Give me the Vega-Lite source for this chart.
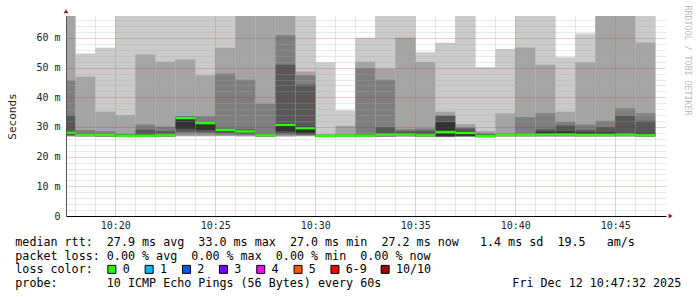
{
"$schema": "https://vega.github.io/schema/vega-lite/v6.json",
"background": "#ffffff",
"padding": {"left": 6, "top": 5, "right": 0, "bottom": 0},
"spacing": 23,
"bounds": "flush",
"config": {"view": {"stroke": null}},
"datasets": {
"pings": [
{"t":"2025-12-12T10:17:00Z","t2":"2025-12-12T10:18:00Z","p1":26.7,"p2":26.9,"p3":27.0,"p4":27.3,"p5":27.6,"p6":28.6,"p7":33.9,"p8":45.7,"p9":72,"p10":75,"med":28.1},
{"t":"2025-12-12T10:18:00Z","t2":"2025-12-12T10:19:00Z","p1":26.7,"p2":26.8,"p3":26.9,"p4":27.0,"p5":27.2,"p6":27.6,"p7":27.9,"p8":29.0,"p9":46.9,"p10":54.8,"med":27.3},
{"t":"2025-12-12T10:19:00Z","t2":"2025-12-12T10:20:00Z","p1":26.6,"p2":26.7,"p3":26.8,"p4":26.9,"p5":27.1,"p6":27.5,"p7":27.8,"p8":28.6,"p9":35.2,"p10":56.7,"med":27.3},
{"t":"2025-12-12T10:20:00Z","t2":"2025-12-12T10:21:00Z","p1":26.5,"p2":26.6,"p3":26.7,"p4":26.8,"p5":26.9,"p6":27.2,"p7":27.4,"p8":27.8,"p9":34.0,"p10":75,"med":27.0},
{"t":"2025-12-12T10:21:00Z","t2":"2025-12-12T10:22:00Z","p1":26.5,"p2":26.6,"p3":26.8,"p4":26.9,"p5":27.0,"p6":27.8,"p7":29.1,"p8":30.8,"p9":54.4,"p10":75,"med":27.1},
{"t":"2025-12-12T10:22:00Z","t2":"2025-12-12T10:23:00Z","p1":26.6,"p2":26.7,"p3":26.8,"p4":26.9,"p5":27.0,"p6":27.6,"p7":28.6,"p8":30.1,"p9":52.0,"p10":75,"med":27.2},
{"t":"2025-12-12T10:23:00Z","t2":"2025-12-12T10:24:00Z","p1":26.8,"p2":27.0,"p3":27.5,"p4":28.4,"p5":29.4,"p6":33.4,"p7":33.5,"p8":33.6,"p9":52.7,"p10":75,"med":33.0},
{"t":"2025-12-12T10:24:00Z","t2":"2025-12-12T10:25:00Z","p1":26.8,"p2":27.0,"p3":27.5,"p4":28.2,"p5":29.0,"p6":31.6,"p7":31.8,"p8":33.6,"p9":47.4,"p10":75,"med":31.3},
{"t":"2025-12-12T10:25:00Z","t2":"2025-12-12T10:26:00Z","p1":26.9,"p2":27.0,"p3":27.3,"p4":27.9,"p5":28.6,"p6":29.3,"p7":29.5,"p8":48.0,"p9":56.7,"p10":75,"med":29.0},
{"t":"2025-12-12T10:26:00Z","t2":"2025-12-12T10:27:00Z","p1":26.8,"p2":26.9,"p3":27.2,"p4":27.6,"p5":28.1,"p6":28.9,"p7":29.2,"p8":45.9,"p9":74,"p10":75,"med":28.5},
{"t":"2025-12-12T10:27:00Z","t2":"2025-12-12T10:28:00Z","p1":26.6,"p2":26.7,"p3":26.8,"p4":26.9,"p5":27.0,"p6":27.5,"p7":27.8,"p8":37.9,"p9":74,"p10":75,"med":27.2},
{"t":"2025-12-12T10:28:00Z","t2":"2025-12-12T10:29:00Z","p1":26.7,"p2":26.9,"p3":27.2,"p4":27.6,"p5":28.5,"p6":31.2,"p7":51.0,"p8":60.9,"p9":74,"p10":75,"med":30.7},
{"t":"2025-12-12T10:29:00Z","t2":"2025-12-12T10:30:00Z","p1":26.8,"p2":27.0,"p3":27.2,"p4":27.4,"p5":27.8,"p6":30.1,"p7":44.3,"p8":47.4,"p9":48.7,"p10":75,"med":29.6},
{"t":"2025-12-12T10:30:00Z","t2":"2025-12-12T10:31:00Z","p1":26.5,"p2":26.6,"p3":26.7,"p4":26.8,"p5":26.9,"p6":27.2,"p7":27.3,"p8":27.4,"p9":27.6,"p10":51.8,"med":27.0},
{"t":"2025-12-12T10:31:00Z","t2":"2025-12-12T10:32:00Z","p1":26.6,"p2":26.7,"p3":26.8,"p4":26.9,"p5":27.0,"p6":27.3,"p7":27.4,"p8":27.6,"p9":30.4,"p10":35.6,"med":27.1},
{"t":"2025-12-12T10:32:00Z","t2":"2025-12-12T10:33:00Z","p1":26.6,"p2":26.7,"p3":26.8,"p4":26.9,"p5":27.0,"p6":27.4,"p7":27.6,"p8":49.7,"p9":52.0,"p10":60.1,"med":27.1},
{"t":"2025-12-12T10:33:00Z","t2":"2025-12-12T10:34:00Z","p1":26.6,"p2":26.7,"p3":26.8,"p4":26.9,"p5":27.1,"p6":27.8,"p7":29.9,"p8":45.9,"p9":49.7,"p10":75,"med":27.4},
{"t":"2025-12-12T10:34:00Z","t2":"2025-12-12T10:35:00Z","p1":26.7,"p2":26.8,"p3":26.9,"p4":27.0,"p5":27.1,"p6":27.8,"p7":28.6,"p8":29.3,"p9":60.1,"p10":75,"med":27.4},
{"t":"2025-12-12T10:35:00Z","t2":"2025-12-12T10:36:00Z","p1":26.6,"p2":26.7,"p3":26.8,"p4":26.9,"p5":27.0,"p6":27.6,"p7":28.7,"p8":29.5,"p9":51.9,"p10":55.2,"med":27.2},
{"t":"2025-12-12T10:36:00Z","t2":"2025-12-12T10:37:00Z","p1":26.5,"p2":26.6,"p3":26.7,"p4":26.8,"p5":26.9,"p6":31.6,"p7":33.8,"p8":33.9,"p9":35.2,"p10":58.4,"med":28.3},
{"t":"2025-12-12T10:37:00Z","t2":"2025-12-12T10:38:00Z","p1":26.6,"p2":26.7,"p3":26.8,"p4":26.9,"p5":27.0,"p6":28.5,"p7":29.5,"p8":29.8,"p9":31.0,"p10":75,"med":28.0},
{"t":"2025-12-12T10:38:00Z","t2":"2025-12-12T10:39:00Z","p1":26.4,"p2":26.5,"p3":26.6,"p4":26.7,"p5":26.8,"p6":27.4,"p7":27.6,"p8":28.0,"p9":28.6,"p10":50.1,"med":27.0},
{"t":"2025-12-12T10:39:00Z","t2":"2025-12-12T10:40:00Z","p1":26.7,"p2":26.8,"p3":26.9,"p4":27.0,"p5":27.1,"p6":27.6,"p7":27.7,"p8":27.9,"p9":34.6,"p10":56.3,"med":27.3},
{"t":"2025-12-12T10:40:00Z","t2":"2025-12-12T10:41:00Z","p1":26.7,"p2":26.8,"p3":26.9,"p4":27.0,"p5":27.1,"p6":27.6,"p7":27.8,"p8":33.3,"p9":56.8,"p10":75,"med":27.3},
{"t":"2025-12-12T10:41:00Z","t2":"2025-12-12T10:42:00Z","p1":26.7,"p2":26.8,"p3":26.9,"p4":27.0,"p5":27.1,"p6":28.4,"p7":29.2,"p8":34.6,"p9":51.0,"p10":75,"med":27.4},
{"t":"2025-12-12T10:42:00Z","t2":"2025-12-12T10:43:00Z","p1":26.7,"p2":26.8,"p3":26.9,"p4":27.0,"p5":27.1,"p6":28.5,"p7":30.5,"p8":31.8,"p9":35.2,"p10":53.5,"med":27.4},
{"t":"2025-12-12T10:43:00Z","t2":"2025-12-12T10:44:00Z","p1":26.7,"p2":26.8,"p3":26.9,"p4":27.0,"p5":27.1,"p6":28.2,"p7":29.0,"p8":30.8,"p9":51.8,"p10":61.5,"med":27.3},
{"t":"2025-12-12T10:44:00Z","t2":"2025-12-12T10:45:00Z","p1":26.7,"p2":26.8,"p3":26.9,"p4":27.0,"p5":27.1,"p6":28.2,"p7":29.9,"p8":32.1,"p9":74,"p10":75,"med":27.3},
{"t":"2025-12-12T10:45:00Z","t2":"2025-12-12T10:46:00Z","p1":26.7,"p2":26.8,"p3":26.9,"p4":27.0,"p5":27.1,"p6":28.0,"p7":33.8,"p8":36.3,"p9":74,"p10":75,"med":27.4},
{"t":"2025-12-12T10:46:00Z","t2":"2025-12-12T10:47:00Z","p1":26.6,"p2":26.7,"p3":26.8,"p4":26.9,"p5":27.0,"p6":28.0,"p7":32.1,"p8":34.6,"p9":58.5,"p10":75,"med":27.2}
],
"credit": [{"label": "RRDTOOL / TOBI OETIKER"}],
"one": [{"n": 1}],
"legendText": [
{"line":1,"col":0,"text":"median rtt:"},
{"line":1,"col":13,"text":"27.9 ms avg"},
{"line":1,"col":26,"text":"33.0 ms max"},
{"line":1,"col":39,"text":"27.0 ms min"},
{"line":1,"col":52,"text":"27.2 ms now"},
{"line":1,"col":66,"text":"1.4 ms sd"},
{"line":1,"col":77,"text":"19.5"},
{"line":1,"col":84,"text":"am/s"},
{"line":2,"col":0,"text":"packet loss:"},
{"line":2,"col":13,"text":"0.00 % avg"},
{"line":2,"col":25,"text":"0.00 % max"},
{"line":2,"col":37,"text":"0.00 % min"},
{"line":2,"col":49,"text":"0.00 % now"},
{"line":3,"col":0,"text":"loss color:"},
{"line":4,"col":0,"text":"probe:"},
{"line":4,"col":13,"text":"10 ICMP Echo Pings (56 Bytes) every 60s"},
{"line":4,"col":70.6,"text":"Fri Dec 12 10:47:32 2025"}
],
"lossColors": [
{"line":3,"col":13.71,"label":"0"},
{"line":3,"col":19.01,"label":"1"},
{"line":3,"col":24.32,"label":"2"},
{"line":3,"col":29.56,"label":"3"},
{"line":3,"col":34.86,"label":"4"},
{"line":3,"col":40.16,"label":"5"},
{"line":3,"col":45.40,"label":"6-9"},
{"line":3,"col":52.53,"label":"10/10"}
]
},
"vconcat": [
{
"width": 600, "height": 200,
"layer": [
{"data": {"name": "pings"}, "mark": {"type": "rect", "clip": true, "color": "#cacaca"},
 "encoding": {
  "x": {"field": "t", "type": "temporal", "scale": {"type": "utc", "nice": false, "domain": [1765534652000, 1765536452000]},
   "axis": {"title": null, "values": [1765534680000,1765534740000,1765534800000,1765534860000,1765534920000,1765534980000,1765535040000,1765535100000,1765535160000,1765535220000,1765535280000,1765535340000,1765535400000,1765535460000,1765535520000,1765535580000,1765535640000,1765535700000,1765535760000,1765535820000,1765535880000,1765535940000,1765536000000,1765536060000,1765536120000,1765536180000,1765536240000,1765536300000,1765536360000,1765536420000], "labelExpr": "utcminutes(datum.value) % 5 === 0 ? utcFormat(datum.value, '%H:%M') : ''", "grid": true, "gridColor": {"condition": {"test": "utcminutes(datum.value) % 5 === 0", "value": "#e50000"}, "value": "#ababab"}, "gridOpacity": {"condition": {"test": "utcminutes(datum.value) % 5 === 0", "value": 0.4}, "value": 0.55}, "gridDash": [1, 1], "ticks": false, "domainColor": "#000000", "labelFont": "DejaVu Sans Mono", "labelFontSize": 10, "labelColor": "#222222", "labelPadding": 4, "labelFlush": false, "labelOverlap": false, "zindex": 1}},
  "x2": {"field": "t2"},
  "y": {"field": "p1", "type": "quantitative", "scale": {"domain": [0, 67.4], "nice": false, "zero": true},
   "axis": {"title": "Seconds", "values": [0,2,4,6,8,10,12,14,16,18,20,22,24,26,28,30,32,34,36,38,40,42,44,46,48,50,52,54,56,58,60,62,64,66], "labelExpr": "datum.value % 10 === 0 ? (datum.value === 0 ? '0' : datum.value + ' m') : ''", "grid": true, "gridColor": {"condition": {"test": "datum.value % 10 === 0", "value": "#e50000"}, "value": "#ababab"}, "gridOpacity": {"condition": {"test": "datum.value % 10 === 0", "value": 0.4}, "value": 0.55}, "gridDash": [1, 1], "ticks": false, "domainColor": "#555555", "labelFont": "DejaVu Sans Mono", "labelFontSize": 10, "labelColor": "#222222", "labelPadding": 6, "labelOverlap": false, "titleFont": "DejaVu Sans Mono", "titleFontSize": 11, "titleFontWeight": "normal", "titleColor": "#222222", "titlePadding": 18, "zindex": 1}},
  "y2": {"field": "p10"}}},
{"data": {"name": "pings"}, "mark": {"type": "rect", "clip": true, "color": "#a4a4a4"},
 "encoding": {
  "x": {"field": "t", "type": "temporal",
   "axis": {"title": null, "values": [1765534680000,1765534740000,1765534800000,1765534860000,1765534920000,1765534980000,1765535040000,1765535100000,1765535160000,1765535220000,1765535280000,1765535340000,1765535400000,1765535460000,1765535520000,1765535580000,1765535640000,1765535700000,1765535760000,1765535820000,1765535880000,1765535940000,1765536000000,1765536060000,1765536120000,1765536180000,1765536240000,1765536300000,1765536360000,1765536420000], "labelExpr": "utcminutes(datum.value) % 5 === 0 ? utcFormat(datum.value, '%H:%M') : ''", "grid": true, "gridColor": {"condition": {"test": "utcminutes(datum.value) % 5 === 0", "value": "#e50000"}, "value": "#ababab"}, "gridOpacity": {"condition": {"test": "utcminutes(datum.value) % 5 === 0", "value": 0.4}, "value": 0.55}, "gridDash": [1, 1], "ticks": false, "domainColor": "#000000", "labelFont": "DejaVu Sans Mono", "labelFontSize": 10, "labelColor": "#222222", "labelPadding": 4, "labelFlush": false, "labelOverlap": false, "zindex": 1}},
  "x2": {"field": "t2"},
  "y": {"field": "p2", "type": "quantitative",
   "axis": {"title": "Seconds", "values": [0,2,4,6,8,10,12,14,16,18,20,22,24,26,28,30,32,34,36,38,40,42,44,46,48,50,52,54,56,58,60,62,64,66], "labelExpr": "datum.value % 10 === 0 ? (datum.value === 0 ? '0' : datum.value + ' m') : ''", "grid": true, "gridColor": {"condition": {"test": "datum.value % 10 === 0", "value": "#e50000"}, "value": "#ababab"}, "gridOpacity": {"condition": {"test": "datum.value % 10 === 0", "value": 0.4}, "value": 0.55}, "gridDash": [1, 1], "ticks": false, "domainColor": "#555555", "labelFont": "DejaVu Sans Mono", "labelFontSize": 10, "labelColor": "#222222", "labelPadding": 6, "labelOverlap": false, "titleFont": "DejaVu Sans Mono", "titleFontSize": 11, "titleFontWeight": "normal", "titleColor": "#222222", "titlePadding": 18, "zindex": 1}},
  "y2": {"field": "p9"}}},
{"data": {"name": "pings"}, "mark": {"type": "rect", "clip": true, "color": "#7e7e7e"},
 "encoding": {
  "x": {"field": "t", "type": "temporal",
   "axis": {"title": null, "values": [1765534680000,1765534740000,1765534800000,1765534860000,1765534920000,1765534980000,1765535040000,1765535100000,1765535160000,1765535220000,1765535280000,1765535340000,1765535400000,1765535460000,1765535520000,1765535580000,1765535640000,1765535700000,1765535760000,1765535820000,1765535880000,1765535940000,1765536000000,1765536060000,1765536120000,1765536180000,1765536240000,1765536300000,1765536360000,1765536420000], "labelExpr": "utcminutes(datum.value) % 5 === 0 ? utcFormat(datum.value, '%H:%M') : ''", "grid": true, "gridColor": {"condition": {"test": "utcminutes(datum.value) % 5 === 0", "value": "#e50000"}, "value": "#ababab"}, "gridOpacity": {"condition": {"test": "utcminutes(datum.value) % 5 === 0", "value": 0.4}, "value": 0.55}, "gridDash": [1, 1], "ticks": false, "domainColor": "#000000", "labelFont": "DejaVu Sans Mono", "labelFontSize": 10, "labelColor": "#222222", "labelPadding": 4, "labelFlush": false, "labelOverlap": false, "zindex": 1}},
  "x2": {"field": "t2"},
  "y": {"field": "p3", "type": "quantitative",
   "axis": {"title": "Seconds", "values": [0,2,4,6,8,10,12,14,16,18,20,22,24,26,28,30,32,34,36,38,40,42,44,46,48,50,52,54,56,58,60,62,64,66], "labelExpr": "datum.value % 10 === 0 ? (datum.value === 0 ? '0' : datum.value + ' m') : ''", "grid": true, "gridColor": {"condition": {"test": "datum.value % 10 === 0", "value": "#e50000"}, "value": "#ababab"}, "gridOpacity": {"condition": {"test": "datum.value % 10 === 0", "value": 0.4}, "value": 0.55}, "gridDash": [1, 1], "ticks": false, "domainColor": "#555555", "labelFont": "DejaVu Sans Mono", "labelFontSize": 10, "labelColor": "#222222", "labelPadding": 6, "labelOverlap": false, "titleFont": "DejaVu Sans Mono", "titleFontSize": 11, "titleFontWeight": "normal", "titleColor": "#222222", "titlePadding": 18, "zindex": 1}},
  "y2": {"field": "p8"}}},
{"data": {"name": "pings"}, "mark": {"type": "rect", "clip": true, "color": "#585858"},
 "encoding": {
  "x": {"field": "t", "type": "temporal",
   "axis": {"title": null, "values": [1765534680000,1765534740000,1765534800000,1765534860000,1765534920000,1765534980000,1765535040000,1765535100000,1765535160000,1765535220000,1765535280000,1765535340000,1765535400000,1765535460000,1765535520000,1765535580000,1765535640000,1765535700000,1765535760000,1765535820000,1765535880000,1765535940000,1765536000000,1765536060000,1765536120000,1765536180000,1765536240000,1765536300000,1765536360000,1765536420000], "labelExpr": "utcminutes(datum.value) % 5 === 0 ? utcFormat(datum.value, '%H:%M') : ''", "grid": true, "gridColor": {"condition": {"test": "utcminutes(datum.value) % 5 === 0", "value": "#e50000"}, "value": "#ababab"}, "gridOpacity": {"condition": {"test": "utcminutes(datum.value) % 5 === 0", "value": 0.4}, "value": 0.55}, "gridDash": [1, 1], "ticks": false, "domainColor": "#000000", "labelFont": "DejaVu Sans Mono", "labelFontSize": 10, "labelColor": "#222222", "labelPadding": 4, "labelFlush": false, "labelOverlap": false, "zindex": 1}},
  "x2": {"field": "t2"},
  "y": {"field": "p4", "type": "quantitative",
   "axis": {"title": "Seconds", "values": [0,2,4,6,8,10,12,14,16,18,20,22,24,26,28,30,32,34,36,38,40,42,44,46,48,50,52,54,56,58,60,62,64,66], "labelExpr": "datum.value % 10 === 0 ? (datum.value === 0 ? '0' : datum.value + ' m') : ''", "grid": true, "gridColor": {"condition": {"test": "datum.value % 10 === 0", "value": "#e50000"}, "value": "#ababab"}, "gridOpacity": {"condition": {"test": "datum.value % 10 === 0", "value": 0.4}, "value": 0.55}, "gridDash": [1, 1], "ticks": false, "domainColor": "#555555", "labelFont": "DejaVu Sans Mono", "labelFontSize": 10, "labelColor": "#222222", "labelPadding": 6, "labelOverlap": false, "titleFont": "DejaVu Sans Mono", "titleFontSize": 11, "titleFontWeight": "normal", "titleColor": "#222222", "titlePadding": 18, "zindex": 1}},
  "y2": {"field": "p7"}}},
{"data": {"name": "pings"}, "mark": {"type": "rect", "clip": true, "color": "#323232"},
 "encoding": {
  "x": {"field": "t", "type": "temporal",
   "axis": {"title": null, "values": [1765534680000,1765534740000,1765534800000,1765534860000,1765534920000,1765534980000,1765535040000,1765535100000,1765535160000,1765535220000,1765535280000,1765535340000,1765535400000,1765535460000,1765535520000,1765535580000,1765535640000,1765535700000,1765535760000,1765535820000,1765535880000,1765535940000,1765536000000,1765536060000,1765536120000,1765536180000,1765536240000,1765536300000,1765536360000,1765536420000], "labelExpr": "utcminutes(datum.value) % 5 === 0 ? utcFormat(datum.value, '%H:%M') : ''", "grid": true, "gridColor": {"condition": {"test": "utcminutes(datum.value) % 5 === 0", "value": "#e50000"}, "value": "#ababab"}, "gridOpacity": {"condition": {"test": "utcminutes(datum.value) % 5 === 0", "value": 0.4}, "value": 0.55}, "gridDash": [1, 1], "ticks": false, "domainColor": "#000000", "labelFont": "DejaVu Sans Mono", "labelFontSize": 10, "labelColor": "#222222", "labelPadding": 4, "labelFlush": false, "labelOverlap": false, "zindex": 1}},
  "x2": {"field": "t2"},
  "y": {"field": "p5", "type": "quantitative",
   "axis": {"title": "Seconds", "values": [0,2,4,6,8,10,12,14,16,18,20,22,24,26,28,30,32,34,36,38,40,42,44,46,48,50,52,54,56,58,60,62,64,66], "labelExpr": "datum.value % 10 === 0 ? (datum.value === 0 ? '0' : datum.value + ' m') : ''", "grid": true, "gridColor": {"condition": {"test": "datum.value % 10 === 0", "value": "#e50000"}, "value": "#ababab"}, "gridOpacity": {"condition": {"test": "datum.value % 10 === 0", "value": 0.4}, "value": 0.55}, "gridDash": [1, 1], "ticks": false, "domainColor": "#555555", "labelFont": "DejaVu Sans Mono", "labelFontSize": 10, "labelColor": "#222222", "labelPadding": 6, "labelOverlap": false, "titleFont": "DejaVu Sans Mono", "titleFontSize": 11, "titleFontWeight": "normal", "titleColor": "#222222", "titlePadding": 18, "zindex": 1}},
  "y2": {"field": "p6"}}},
{"data": {"name": "pings"}, "mark": {"type": "rule", "clip": true, "color": "#26ff00", "strokeWidth": 2.4},
 "encoding": {
  "x": {"field": "t", "type": "temporal",
   "axis": {"title": null, "values": [1765534680000,1765534740000,1765534800000,1765534860000,1765534920000,1765534980000,1765535040000,1765535100000,1765535160000,1765535220000,1765535280000,1765535340000,1765535400000,1765535460000,1765535520000,1765535580000,1765535640000,1765535700000,1765535760000,1765535820000,1765535880000,1765535940000,1765536000000,1765536060000,1765536120000,1765536180000,1765536240000,1765536300000,1765536360000,1765536420000], "labelExpr": "utcminutes(datum.value) % 5 === 0 ? utcFormat(datum.value, '%H:%M') : ''", "grid": true, "gridColor": {"condition": {"test": "utcminutes(datum.value) % 5 === 0", "value": "#e50000"}, "value": "#ababab"}, "gridOpacity": {"condition": {"test": "utcminutes(datum.value) % 5 === 0", "value": 0.4}, "value": 0.55}, "gridDash": [1, 1], "ticks": false, "domainColor": "#000000", "labelFont": "DejaVu Sans Mono", "labelFontSize": 10, "labelColor": "#222222", "labelPadding": 4, "labelFlush": false, "labelOverlap": false, "zindex": 1}},
  "x2": {"field": "t2"},
  "y": {"field": "med", "type": "quantitative",
   "axis": {"title": "Seconds", "values": [0,2,4,6,8,10,12,14,16,18,20,22,24,26,28,30,32,34,36,38,40,42,44,46,48,50,52,54,56,58,60,62,64,66], "labelExpr": "datum.value % 10 === 0 ? (datum.value === 0 ? '0' : datum.value + ' m') : ''", "grid": true, "gridColor": {"condition": {"test": "datum.value % 10 === 0", "value": "#e50000"}, "value": "#ababab"}, "gridOpacity": {"condition": {"test": "datum.value % 10 === 0", "value": 0.4}, "value": 0.55}, "gridDash": [1, 1], "ticks": false, "domainColor": "#555555", "labelFont": "DejaVu Sans Mono", "labelFontSize": 10, "labelColor": "#222222", "labelPadding": 6, "labelOverlap": false, "titleFont": "DejaVu Sans Mono", "titleFontSize": 11, "titleFontWeight": "normal", "titleColor": "#222222", "titlePadding": 18, "zindex": 1}}}},
{"data": {"name": "one"}, "mark": {"type": "point", "shape": "triangle-up", "filled": true, "size": 24, "color": "#992222", "opacity": 1},
 "encoding": {
  "x": {"datum": 1765534652000, "type": "temporal",
   "axis": {"title": null, "values": [1765534680000,1765534740000,1765534800000,1765534860000,1765534920000,1765534980000,1765535040000,1765535100000,1765535160000,1765535220000,1765535280000,1765535340000,1765535400000,1765535460000,1765535520000,1765535580000,1765535640000,1765535700000,1765535760000,1765535820000,1765535880000,1765535940000,1765536000000,1765536060000,1765536120000,1765536180000,1765536240000,1765536300000,1765536360000,1765536420000], "labelExpr": "utcminutes(datum.value) % 5 === 0 ? utcFormat(datum.value, '%H:%M') : ''", "grid": true, "gridColor": {"condition": {"test": "utcminutes(datum.value) % 5 === 0", "value": "#e50000"}, "value": "#ababab"}, "gridOpacity": {"condition": {"test": "utcminutes(datum.value) % 5 === 0", "value": 0.4}, "value": 0.55}, "gridDash": [1, 1], "ticks": false, "domainColor": "#000000", "labelFont": "DejaVu Sans Mono", "labelFontSize": 10, "labelColor": "#222222", "labelPadding": 4, "labelFlush": false, "labelOverlap": false, "zindex": 1}},
  "y": {"datum": 69.0, "type": "quantitative",
   "axis": {"title": "Seconds", "values": [0,2,4,6,8,10,12,14,16,18,20,22,24,26,28,30,32,34,36,38,40,42,44,46,48,50,52,54,56,58,60,62,64,66], "labelExpr": "datum.value % 10 === 0 ? (datum.value === 0 ? '0' : datum.value + ' m') : ''", "grid": true, "gridColor": {"condition": {"test": "datum.value % 10 === 0", "value": "#e50000"}, "value": "#ababab"}, "gridOpacity": {"condition": {"test": "datum.value % 10 === 0", "value": 0.4}, "value": 0.55}, "gridDash": [1, 1], "ticks": false, "domainColor": "#555555", "labelFont": "DejaVu Sans Mono", "labelFontSize": 10, "labelColor": "#222222", "labelPadding": 6, "labelOverlap": false, "titleFont": "DejaVu Sans Mono", "titleFontSize": 11, "titleFontWeight": "normal", "titleColor": "#222222", "titlePadding": 18, "zindex": 1}}}},
{"data": {"name": "one"}, "mark": {"type": "point", "shape": "triangle-right", "filled": true, "size": 24, "color": "#992222", "opacity": 1},
 "encoding": {
  "x": {"datum": 1765536466000, "type": "temporal",
   "axis": {"title": null, "values": [1765534680000,1765534740000,1765534800000,1765534860000,1765534920000,1765534980000,1765535040000,1765535100000,1765535160000,1765535220000,1765535280000,1765535340000,1765535400000,1765535460000,1765535520000,1765535580000,1765535640000,1765535700000,1765535760000,1765535820000,1765535880000,1765535940000,1765536000000,1765536060000,1765536120000,1765536180000,1765536240000,1765536300000,1765536360000,1765536420000], "labelExpr": "utcminutes(datum.value) % 5 === 0 ? utcFormat(datum.value, '%H:%M') : ''", "grid": true, "gridColor": {"condition": {"test": "utcminutes(datum.value) % 5 === 0", "value": "#e50000"}, "value": "#ababab"}, "gridOpacity": {"condition": {"test": "utcminutes(datum.value) % 5 === 0", "value": 0.4}, "value": 0.55}, "gridDash": [1, 1], "ticks": false, "domainColor": "#000000", "labelFont": "DejaVu Sans Mono", "labelFontSize": 10, "labelColor": "#222222", "labelPadding": 4, "labelFlush": false, "labelOverlap": false, "zindex": 1}},
  "y": {"datum": 0, "type": "quantitative",
   "axis": {"title": "Seconds", "values": [0,2,4,6,8,10,12,14,16,18,20,22,24,26,28,30,32,34,36,38,40,42,44,46,48,50,52,54,56,58,60,62,64,66], "labelExpr": "datum.value % 10 === 0 ? (datum.value === 0 ? '0' : datum.value + ' m') : ''", "grid": true, "gridColor": {"condition": {"test": "datum.value % 10 === 0", "value": "#e50000"}, "value": "#ababab"}, "gridOpacity": {"condition": {"test": "datum.value % 10 === 0", "value": 0.4}, "value": 0.55}, "gridDash": [1, 1], "ticks": false, "domainColor": "#555555", "labelFont": "DejaVu Sans Mono", "labelFontSize": 10, "labelColor": "#222222", "labelPadding": 6, "labelOverlap": false, "titleFont": "DejaVu Sans Mono", "titleFontSize": 11, "titleFontWeight": "normal", "titleColor": "#222222", "titlePadding": 18, "zindex": 1}}}},
{"data": {"name": "credit"}, "mark": {"type": "text", "angle": 90, "align": "left", "baseline": "middle", "font": "DejaVu Sans Mono", "fontSize": 8.3, "color": "#bbbbbb"},
 "encoding": {
  "x": {"datum": 1765536515000, "type": "temporal",
   "axis": {"title": null, "values": [1765534680000,1765534740000,1765534800000,1765534860000,1765534920000,1765534980000,1765535040000,1765535100000,1765535160000,1765535220000,1765535280000,1765535340000,1765535400000,1765535460000,1765535520000,1765535580000,1765535640000,1765535700000,1765535760000,1765535820000,1765535880000,1765535940000,1765536000000,1765536060000,1765536120000,1765536180000,1765536240000,1765536300000,1765536360000,1765536420000], "labelExpr": "utcminutes(datum.value) % 5 === 0 ? utcFormat(datum.value, '%H:%M') : ''", "grid": true, "gridColor": {"condition": {"test": "utcminutes(datum.value) % 5 === 0", "value": "#e50000"}, "value": "#ababab"}, "gridOpacity": {"condition": {"test": "utcminutes(datum.value) % 5 === 0", "value": 0.4}, "value": 0.55}, "gridDash": [1, 1], "ticks": false, "domainColor": "#000000", "labelFont": "DejaVu Sans Mono", "labelFontSize": 10, "labelColor": "#222222", "labelPadding": 4, "labelFlush": false, "labelOverlap": false, "zindex": 1}},
  "y": {"datum": 70.9, "type": "quantitative",
   "axis": {"title": "Seconds", "values": [0,2,4,6,8,10,12,14,16,18,20,22,24,26,28,30,32,34,36,38,40,42,44,46,48,50,52,54,56,58,60,62,64,66], "labelExpr": "datum.value % 10 === 0 ? (datum.value === 0 ? '0' : datum.value + ' m') : ''", "grid": true, "gridColor": {"condition": {"test": "datum.value % 10 === 0", "value": "#e50000"}, "value": "#ababab"}, "gridOpacity": {"condition": {"test": "datum.value % 10 === 0", "value": 0.4}, "value": 0.55}, "gridDash": [1, 1], "ticks": false, "domainColor": "#555555", "labelFont": "DejaVu Sans Mono", "labelFontSize": 10, "labelColor": "#222222", "labelPadding": 6, "labelOverlap": false, "titleFont": "DejaVu Sans Mono", "titleFontSize": 11, "titleFontWeight": "normal", "titleColor": "#222222", "titlePadding": 18, "zindex": 1}},
  "text": {"field": "label"}}}
]
},
{
"width": 628, "height": 55,
"layer": [
{"data": {"name": "legendText"}, "mark": {"type": "text", "align": "left", "baseline": "alphabetic", "font": "DejaVu Sans Mono", "fontSize": 11.7, "color": "#000000"},
 "encoding": {
  "x": {"field": "col", "type": "quantitative", "scale": {"domain": [7.2, 96.4], "nice": false, "zero": false}, "axis": null},
  "y": {"field": "line", "type": "quantitative", "scale": {"domain": [0.5, 4.5], "reverse": true, "nice": false, "zero": false}, "axis": null},
  "text": {"field": "text"}}},
{"data": {"name": "lossColors"}, "mark": {"type": "point", "shape": "square", "filled": true, "size": 64, "stroke": "#000000", "strokeWidth": 1, "opacity": 1, "yOffset": -4},
 "encoding": {
  "x": {"field": "col", "type": "quantitative", "axis": null},
  "y": {"field": "line", "type": "quantitative", "axis": null},
  "color": {"field": "label", "type": "nominal", "legend": null,
   "scale": {"domain": ["0","1","2","3","4","5","6-9","10/10"], "range": ["#26ff00","#00b8ff","#0059ff","#7600ff","#ff00ff","#ff5500","#ff0000","#a10000"]}}}},
{"data": {"name": "lossColors"}, "mark": {"type": "text", "align": "left", "baseline": "alphabetic", "dx": 10.8, "font": "DejaVu Sans Mono", "fontSize": 11.7, "color": "#000000"},
 "encoding": {
  "x": {"field": "col", "type": "quantitative", "axis": null},
  "y": {"field": "line", "type": "quantitative", "axis": null},
  "text": {"field": "label"}}}
]
}
]
}
